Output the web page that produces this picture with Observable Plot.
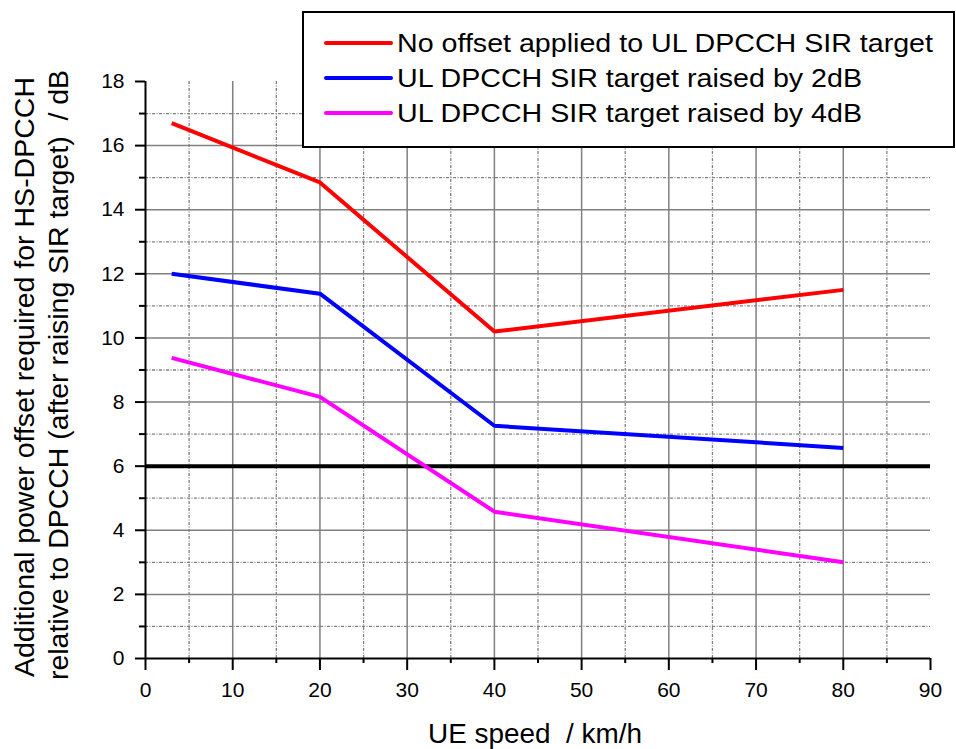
<!DOCTYPE html>
<html>
<head>
<meta charset="utf-8">
<script src="https://cdn.jsdelivr.net/npm/d3@7"></script>
<script src="https://cdn.jsdelivr.net/npm/@observablehq/plot@0.6"></script>
<style>
  html, body { margin: 0; padding: 0; background: #fff; }
  #chart { width: 956px; height: 749px; }
</style>
</head>
<body>
<div id="chart"></div>
<script>
// ---- data ----
const speeds = [3, 20, 40, 80];
const noOffset = [16.7, 14.85, 10.2, 11.5];
const raised2dB = [12.0, 11.38, 7.26, 6.57];
const raised4dB = [9.38, 8.16, 4.58, 3.0];
const seriesNames = [
  "No offset applied to UL DPCCH SIR target",
  "UL DPCCH SIR target raised by 2dB",
  "UL DPCCH SIR target raised by 4dB"
];
const seriesColors = ["#ff0000", "#0000ff", "#ff00ff"];
const threshold = [6];
const xMajor = [0, 10, 20, 30, 40, 50, 60, 70, 80, 90];
const xMinor = [5, 15, 25, 35, 45, 55, 65, 75, 85];
const yMajor = [0, 2, 4, 6, 8, 10, 12, 14, 16, 18];
const yMinor = [1, 3, 5, 7, 9, 11, 13, 15, 17];
const xLabel = "UE speed  / km/h";
const yLabel1 = "Additional power offset required for HS-DPCCH";
const yLabel2 = "relative to DPCCH (after raising SIR target)  / dB";

const allSeries = [noOffset, raised2dB, raised4dB];
const rows = [];
allSeries.forEach((vals, i) => {
  vals.forEach((v, j) => rows.push({series: seriesNames[i], speed: speeds[j], value: v}));
});

const gridColor = "#808080";
const font = "'Liberation Sans', Arial, sans-serif";

const chart = Plot.plot({
  width: 956,
  height: 749,
  marginLeft: 145,
  marginRight: 26,
  marginTop: 81,
  marginBottom: 91,
  style: {fontFamily: font, fontSize: "21px", background: "#fff", color: "#000", overflow: "visible"},
  x: {domain: [0, 90]},
  y: {domain: [0, 18]},
  color: {domain: seriesNames, range: seriesColors},
  marks: [
    Plot.gridX(xMajor.slice(1, -1), {stroke: gridColor, strokeOpacity: 1, strokeWidth: 1.5}),
    Plot.gridX(xMinor, {stroke: gridColor, strokeOpacity: 1, strokeWidth: 1.3, strokeDasharray: "3,1.5,1,1.5"}),
    Plot.gridY(yMajor.slice(1, -1), {stroke: gridColor, strokeOpacity: 1, strokeWidth: 1.5}),
    Plot.gridY(yMinor, {stroke: gridColor, strokeOpacity: 1, strokeWidth: 1.3, strokeDasharray: "3,1.5,1,1.5"}),
    Plot.ruleY(threshold, {stroke: "#000", strokeWidth: 4}),
    Plot.line(rows, {x: "speed", y: "value", z: "series", stroke: "series", strokeWidth: 4, strokeLinejoin: "miter", strokeLinecap: "butt"}),
    Plot.axisX(xMajor, {tickSize: 12, tickPadding: 12, strokeWidth: 2, fontSize: 21, label: null}),
    Plot.axisX(xMinor, {tickSize: 5, strokeWidth: 2, tickFormat: () => "", label: null}),
    Plot.axisY(yMajor, {tickSize: 10, tickPadding: 11, strokeWidth: 2, fontSize: 21, label: null}),
    Plot.axisY(yMinor, {tickSize: 6, strokeWidth: 2, tickFormat: () => "", label: null}),
    Plot.ruleX([0], {stroke: "#000", strokeWidth: 2}),
    Plot.ruleY([0], {stroke: "#000", strokeWidth: 2})
  ]
});

document.getElementById("chart").appendChild(chart);

// ---- titles & legend (annotation, not data) ----
const svg = d3.select(chart);

svg.append("text")
  .attr("x", 535).attr("y", 743)
  .attr("text-anchor", "middle")
  .style("white-space", "pre")
  .attr("font-family", font).attr("font-size", 27)
  .attr("textLength", 214).attr("lengthAdjust", "spacingAndGlyphs")
  .text(xLabel);

[[yLabel1, 34, 600, 377], [yLabel2, 68, 610, 375]].forEach(([t, bx, len, cy]) => {
  svg.append("text")
    .attr("transform", `translate(${bx},${cy}) rotate(-90)`)
    .attr("text-anchor", "middle")
    .style("white-space", "pre")
    .attr("font-family", font).attr("font-size", 27)
    .attr("textLength", len).attr("lengthAdjust", "spacingAndGlyphs")
    .text(t);
});

const lg = svg.append("g");
lg.append("rect")
  .attr("x", 303).attr("y", 12).attr("width", 651).attr("height", 135)
  .attr("fill", "#fff").attr("stroke", "#000").attr("stroke-width", 2);
const legendEnds = [933, 862, 862];
seriesNames.forEach((name, i) => {
  const cy = 43 + i * 35;
  lg.append("line")
    .attr("x1", 326).attr("x2", 391).attr("y1", cy).attr("y2", cy)
    .attr("stroke", seriesColors[i]).attr("stroke-width", 4).attr("stroke-linecap", "round");
  lg.append("text")
    .attr("x", 397).attr("y", cy + 9)
    .attr("text-anchor", "start")
    .attr("font-family", font).attr("font-size", 26)
    .attr("textLength", legendEnds[i] - 397).attr("lengthAdjust", "spacingAndGlyphs")
    .text(name);
});
</script>
</body>
</html>
